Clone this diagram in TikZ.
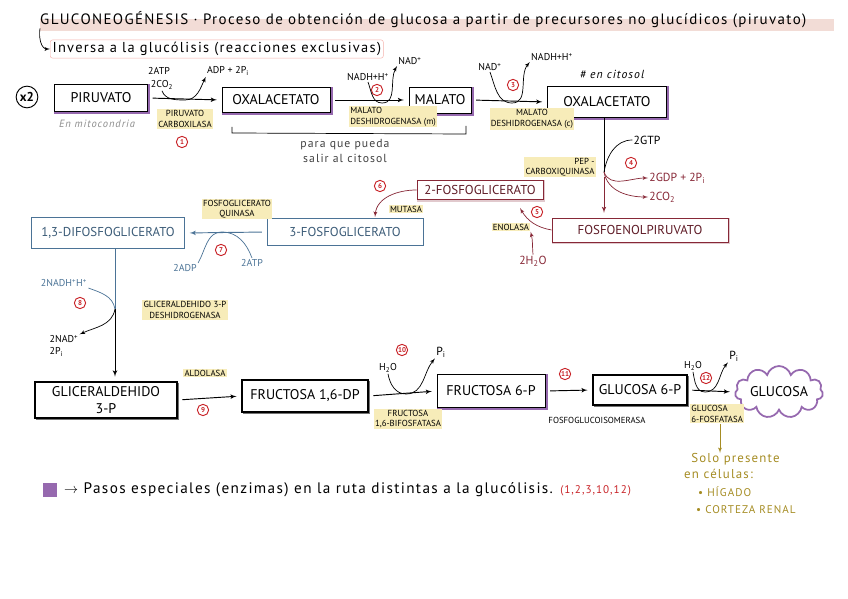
\documentclass[tikz,border=0pt]{standalone}
\usepackage{fontspec}
\setmainfont{PT Sans}
\newfontfamily\handfont[LetterSpace=9]{PT Sans}
\usepackage{tikz}
\usetikzlibrary{arrows,shadows,shapes.symbols}
\definecolor{keypurple}{RGB}{150,105,175}
\definecolor{hlyellow}{RGB}{247,236,185}
\definecolor{numred}{RGB}{200,35,40}
\definecolor{glyblue}{RGB}{75,115,150}
\definecolor{pepred}{RGB}{135,40,55}
\definecolor{liverolive}{RGB}{165,140,35}
\definecolor{markpink}{RGB}{242,220,214}
\tikzset{metab/.style = {shape = rectangle, draw, thick, fill = white, font = \fontsize{12}{14}\selectfont, inner sep = 0pt}}
\tikzset{special/.style = {metab, general shadow = {draw = keypurple, line width = 2.5pt, shadow xshift = 1.2pt, shadow yshift = -1.2pt}}}
\tikzset{dark/.style = {metab, line width = 1.3pt, general shadow = {draw = black!55, line width = 1pt, shadow xshift = 1.6pt, shadow yshift = -1.6pt}}}
\tikzset{glybox/.style = {metab, draw = glyblue, text = glyblue!80!black, font = \fontsize{11}{13}\selectfont}}
\tikzset{pepbox/.style = {metab, draw = pepred, text = pepred!70!black, font = \fontsize{11}{13}\selectfont, general shadow = {draw = pepred!25, line width = 2pt, shadow xshift = 1pt, shadow yshift = -1pt}}}
\tikzset{enzyme/.style = {fill = hlyellow, font = \fontsize{7.5}{9}\selectfont, inner sep = 1pt, align = center}}
\tikzset{cofactor/.style = {font = \fontsize{8.5}{10}\selectfont, inner sep = 1pt, align = left}}
\tikzset{rxn/.style = {shape = circle, draw = numred, thick, text = numred, font = \fontsize{6}{6}\selectfont\bfseries, inner sep = 0pt, minimum size = 0.34cm}}
\tikzset{note/.style = {inner sep = 0pt, font = \handfont\fontsize{11}{14}\selectfont}}
\tikzset{edge/.style = {->, > = latex', thick, shorten > = 4pt, shorten < = 4pt}}
\tikzset{side/.style = {->, > = latex', semithick}}

\begin{document}
\begin{tikzpicture}[x = 0.03cm, y = -0.03cm]
			\useasboundingbox (0, 0) rectangle (848, 599);
			\fill[markpink] (40, 19) rectangle (834, 31);
			\node[note, anchor = west, font = \handfont\fontsize{12.8}{15}\selectfont] (t) at (40, 20) {GLUCONEOGÉNESIS · Proceso de obtención de glucosa a partir de precursores no glucídicos (piruvato)};
			\node[note, anchor = west, draw = markpink!80!red, rounded corners = 2pt, font = \handfont\fontsize{12.3}{14}\selectfont, inner sep = 2pt] (s) at (50, 49) {Inversa a la glucólisis (reacciones exclusivas)};
			\draw[side] (t.south west) to[out = -100, in = 180] (s.west);

			\node[shape = circle, draw, thick, font = \fontsize{11}{13}\selectfont\bfseries, inner sep = 1pt, minimum size = 0.65cm] (x) at (27, 97) {x2};
			\node[special, minimum width = 2.79cm, minimum height = 0.81cm] (a) at (101, 98) {PIRUVATO};
			\node[special, minimum width = 3.24cm, minimum height = 0.75cm] (b) at (276, 100) {OXALACETATO};
			\node[special, minimum width = 1.86cm, minimum height = 0.78cm] (c) at (440, 100) {MALATO};
			\node[special, minimum width = 3.57cm, minimum height = 0.93cm] (d) at (607, 102) {OXALACETATO};
			\node[pepbox, minimum width = 5.28cm, minimum height = 0.72cm] (e) at (640, 230) {FOSFOENOLPIRUVATO};
			\node[pepbox, minimum width = 3.78cm, minimum height = 0.57cm] (f) at (480, 190) {2-FOSFOGLICERATO};
			\node[glybox, minimum width = 4.68cm, minimum height = 0.81cm] (g) at (345, 232) {3-FOSFOGLICERATO};
			\node[glybox, minimum width = 4.59cm, minimum height = 0.93cm] (h) at (108, 233) {1,3-DIFOSFOGLICERATO};
			\node[dark, minimum width = 4.26cm, minimum height = 1.08cm, align = center] (i) at (106, 400) {GLICERALDEHIDO\\3-P};
			\node[dark, minimum width = 3.78cm, minimum height = 0.96cm] (j) at (305, 396) {FRUCTOSA 1,6-DP};
			\node[special, minimum width = 3.24cm, minimum height = 0.99cm] (k) at (491, 391) {FRUCTOSA 6-P};
			\node[dark, minimum width = 2.82cm, minimum height = 0.9cm] (l) at (640, 390) {GLUCOSA 6-P};
			\node[shape = cloud, cloud puffs = 11, aspect = 2.3, draw = keypurple, line width = 1.5pt, fill = white, minimum width = 2.64cm, minimum height = 1.17cm, inner sep = 0pt, font = \fontsize{12}{14}\selectfont] (m) at (779, 392) {GLUCOSA};

			\node[note, text = black!45, font = \handfont\fontsize{9}{11}\selectfont\itshape] (mito) at (97, 124) {En mitocondria};
			\draw[semithick] (232, 127) -- (232, 133) -- (466, 134) -- (466, 126);
			\node[note, align = center, font = \handfont\fontsize{10}{12}\selectfont, text = black!75] (cito) at (345, 151) {para que pueda\\salir al citosol};
			\node[note, font = \handfont\fontsize{10}{12}\selectfont\itshape] (hash) at (612, 74) {\# en citosol};

			\node[cofactor] (u1) at (159, 71) {2ATP};
			\node[cofactor] (w1) at (162, 85) {2CO\textsubscript{2}};
			\node[cofactor] (v1) at (228, 71) {ADP + 2P\textsubscript{i}};
			\node[cofactor] (u2) at (368, 77) {NADH+H\textsuperscript{+}};
			\node[cofactor] (v2) at (410, 61) {NAD\textsuperscript{+}};
			\node[cofactor] (u3) at (490, 67) {NAD\textsuperscript{+}};
			\node[cofactor] (v3) at (552, 57) {NADH+H\textsuperscript{+}};
			\node[cofactor, font = \fontsize{10}{12}\selectfont] (u4) at (647, 140) {2GTP};
			\node[cofactor, anchor = west, text = pepred, font = \fontsize{10}{12}\selectfont] (v4) at (648, 178) {2GDP + 2P\textsubscript{i}};
			\node[cofactor, anchor = west, text = pepred, font = \fontsize{10}{12}\selectfont] (w4) at (648, 197) {2CO\textsubscript{2}};
			\node[cofactor, text = pepred, font = \fontsize{10}{12}\selectfont] (u5) at (533, 261) {2H\textsubscript{2}O};
			\node[cofactor, text = glyblue] (u7) at (252, 263) {2ATP};
			\node[cofactor, text = glyblue] (v7) at (185, 268) {2ADP};
			\node[cofactor, text = glyblue] (u8) at (64, 283) {2NADH\textsuperscript{+}H\textsuperscript{+}};
			\node[cofactor] (v8) at (64, 346) {2NAD\textsuperscript{+}\\2P\textsubscript{i}};
			\node[cofactor] (u10) at (388, 368) {H\textsubscript{2}O};
			\node[cofactor, font = \fontsize{10}{12}\selectfont] (v10) at (441, 352) {P\textsubscript{i}};
			\node[cofactor] (u12) at (693, 366) {H\textsubscript{2}O};
			\node[cofactor, font = \fontsize{10}{12}\selectfont] (v12) at (734, 356) {P\textsubscript{i}};

			\node[enzyme] (e1) at (185, 119) {PIRUVATO\\CARBOXILASA};
			\node[enzyme, anchor = north west, align = left] (e2) at (349, 106) {MALATO\\DESHIDROGENASA (m)};
			\node[enzyme] (e3) at (532, 119) {MALATO\\DESHIDROGENASA (c)};
			\node[enzyme, align = right] (e4) at (560, 167) {PEP -\\CARBOXIQUINASA};
			\node[enzyme] (e5) at (511, 227) {ENOLASA};
			\node[enzyme] (e6) at (406, 209) {MUTASA};
			\node[enzyme] (e7) at (237, 209) {FOSFOGLICERATO\\QUINASA};
			\node[enzyme] (e8) at (185, 310) {GLICERALDEHIDO 3-P\\DESHIDROGENASA};
			\node[enzyme] (e9) at (205, 373) {ALDOLASA};
			\node[enzyme] (e10) at (408, 419) {FRUCTOSA\\1,6-BIFOSFATASA};
			\node[enzyme, fill = none] (e11) at (597, 420) {FOSFOGLUCOISOMERASA};
			\node[enzyme, anchor = north west, align = left] (e12) at (690, 404) {GLUCOSA\\6-FOSFATASA};

			\node[rxn] (n1) at (182, 142) {1};
			\node[rxn] (n2) at (377, 90) {2};
			\node[rxn] (n3) at (513, 85) {3};
			\node[rxn] (n4) at (631, 163) {4};
			\node[rxn] (n5) at (537, 212) {5};
			\node[rxn] (n6) at (380, 186) {6};
			\node[rxn] (n7) at (221, 250) {7};
			\node[rxn] (n8) at (80, 303) {8};
			\node[rxn] (n9) at (203, 410) {9};
			\node[rxn] (n10) at (402, 350) {10};
			\node[rxn] (n11) at (565, 374) {11};
			\node[rxn] (n12) at (706, 378) {12};

			\coordinate (r1) at (185, 100);
			\coordinate (r2) at (382, 103);
			\coordinate (r3) at (512, 103);
			\coordinate (r4) at (604, 172);
			\coordinate (f5) at (520, 208);
			\coordinate (g6) at (375, 217);
			\coordinate (r7) at (222, 232);
			\coordinate (r8) at (115, 309);
			\coordinate (r10) at (406, 394);
			\coordinate (r12) at (705, 392);

			\draw[edge] (a.east) -- (b.west);
			\draw[side] (w1.south) to[out = -70, in = 180] (r1) to[out = 0, in = -115] (v1.south west);
			\draw[edge] (b.east) -- (c.west);
			\draw[side] (u2.south) to[out = -70, in = 180] (r2) to[out = 0, in = -120] (v2.south west);
			\draw[edge] (c.east) -- (d.west);
			\draw[side] (u3.south) to[out = -70, in = 180] (r3) to[out = 0, in = -130] (v3.south west);
			\draw[thick] (d.south -| r4) -- (r4);
			\draw[edge, pepred] (r4) -- (e.north -| r4);
			\draw[semithick] (u4.west) to[out = 180, in = 80] (r4);
			\draw[side, pepred] (r4) to[out = -70, in = 180] (v4.west);
			\draw[side, pepred] (r4) to[out = -80, in = 180] (w4.west);
			\draw[side, pepred] (e.west) to[out = 170, in = -60] (f5);
			\draw[side, pepred] (u5.north) to[out = 95, in = -75] (e5.south east);
			\draw[side, pepred] (f.west) to[out = 180, in = 85] (g6);
			\draw[edge, glyblue] (g.west) -- (h.east);
			\draw[semithick, glyblue] (u7.north) to[out = 110, in = 0] (r7) to[out = 180, in = 60] (v7.north east);
			\draw[thick, glyblue] (h.south -| r8) -- (r8);
			\draw[edge, shorten < = 0pt] (r8) -- (i.north -| r8);
			\draw[semithick, glyblue] (u8.south east) to[out = -20, in = 100] (r8);
			\draw[side] (r8) to[out = -100, in = 25] (v8.north east);
			\draw[edge] (i.east) -- (j.west);
			\draw[edge] (j.east) -- (k.west);
			\draw[side] (u10.south) to[out = -80, in = 180] (r10) to[out = 0, in = -130] (v10.south west);
			\draw[edge] (k.east) -- (l.west);
			\draw[edge] (l.east) -- (m.west);
			\draw[side] (u12.south) to[out = -80, in = 180] (r12) to[out = 0, in = -130] (v12.south west);

			\node[note, anchor = north west, align = left, text = liverolive] (o) at (684, 453) {\hspace*{6pt}Solo presente\\en células:};
			\draw[side, liverolive] (e12.south -| 720, 0) -- (o.north -| 720, 0);
			\node[note, anchor = west, text = liverolive, font = \handfont\fontsize{9.5}{11}\selectfont] (o1) at (698, 492) {\textbullet\ HÍGADO};
			\node[note, anchor = west, text = liverolive, font = \handfont\fontsize{9.5}{11}\selectfont] (o2) at (696, 510) {\textbullet\ CORTEZA RENAL};

			\node[fill = keypurple, minimum size = 0.4cm, inner sep = 0pt] (q) at (50, 490) {};
			\node[note, anchor = west, font = \handfont\fontsize{13}{15}\selectfont] (p) at (64, 490) {$\rightarrow$ Pasos especiales (enzimas) en la ruta distintas a la glucólisis. {\color{numred}\fontsize{9.5}{11}\selectfont (1,2,3,10,12)}};
		\end{tikzpicture}
\end{document}
